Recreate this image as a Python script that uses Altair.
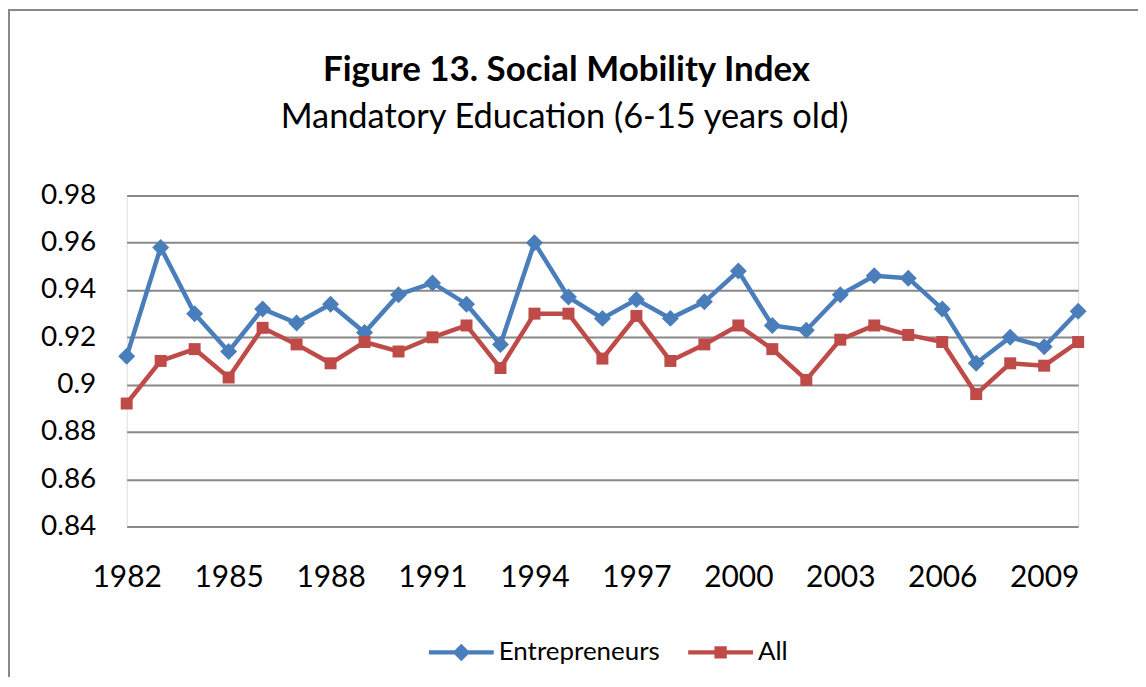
import altair as alt
import pandas as pd

years = list(range(1982, 2011))
entrepreneurs = [0.912, 0.958, 0.930, 0.914, 0.932, 0.926, 0.934, 0.922, 0.938, 0.943,
                 0.934, 0.917, 0.960, 0.937, 0.928, 0.936, 0.928, 0.935, 0.948, 0.925,
                 0.923, 0.938, 0.946, 0.945, 0.932, 0.909, 0.920, 0.916, 0.931]
all_series = [0.892, 0.910, 0.915, 0.903, 0.924, 0.917, 0.909, 0.918, 0.914, 0.920,
              0.925, 0.907, 0.930, 0.930, 0.911, 0.929, 0.910, 0.917, 0.925, 0.915,
              0.902, 0.919, 0.925, 0.921, 0.918, 0.896, 0.909, 0.908, 0.918]
series_names = ["Entrepreneurs", "All"]
series_colors = ["#4A7EBB", "#BE4B48"]
x_ticks = [1982, 1985, 1988, 1991, 1994, 1997, 2000, 2003, 2006, 2009]
y_ticks = [0.84, 0.86, 0.88, 0.90, 0.92, 0.94, 0.96, 0.98]
title_text = "Figure 13. Social Mobility Index"
subtitle_text = "Mandatory Education (6-15 years old)"

n = len(years)
df = pd.DataFrame({
    "year": years * 2,
    "value": entrepreneurs + all_series,
    "series": [series_names[0]] * n + [series_names[1]] * n,
    "hex": [series_colors[0]] * n + [series_colors[1]] * n,
})

FONT = "Lato"
W, H = 954, 332

x_enc = alt.X("year:Q",
              scale=alt.Scale(domain=[1982, 2010], nice=False, zero=False),
              axis=alt.Axis(values=x_ticks, format="d", title=None, grid=False,
                            domain=False, ticks=False, tickSize=0,
                            labelBaseline="alphabetic", labelPadding=60,
                            labelFontSize=30, labelFont=FONT, labelColor="#000000",
                            labelFlush=False, labelOverlap=False))
y_enc = alt.Y("value:Q",
              scale=alt.Scale(domain=[0.84, 0.98], nice=False, zero=False),
              axis=alt.Axis(values=y_ticks, format="~g", title=None, grid=True,
                            gridColor="#888888", gridWidth=2, domain=False,
                            ticks=False, tickSize=0, labelPadding=31,
                            labelFontSize=28, labelFont=FONT, labelColor="#000000"))

base = alt.Chart(df)

lines = base.mark_line(strokeWidth=4.5).encode(
    x=x_enc, y=y_enc,
    color=alt.Color("hex:N", scale=None),
    detail="series:N",
)

pts_e = base.transform_filter(alt.datum.series == "Entrepreneurs").mark_point(
    shape="diamond", filled=True, size=290, opacity=1).encode(
    x=x_enc, y=y_enc, color=alt.Color("hex:N", scale=None))

pts_a = base.transform_filter(alt.datum.series == "All").mark_point(
    shape="square", filled=True, size=144, opacity=1).encode(
    x=x_enc, y=y_enc, color=alt.Color("hex:N", scale=None))

# legend-only layer: symbols are line + marker paths
path_diamond = "M-1,-0.065L1,-0.065L1,0.065L-1,0.065Z M0,-0.27L0.27,0L0,0.27L-0.27,0Z"
path_square = "M-1,-0.065L1,-0.065L1,0.065L-1,0.065Z M-0.19,-0.19L0.19,-0.19L0.19,0.19L-0.19,0.19Z"
leg = alt.Legend(title=None, orient="none", legendX=303, legendY=425.5,
                 direction="horizontal", symbolSize=4225, symbolStrokeWidth=0,
                 labelFont=FONT, labelFontSize=26, labelColor="#000000",
                 labelLimit=400, labelOffset=5, columnPadding=28, padding=0)
legend_layer = base.transform_filter("false").mark_point(filled=True, opacity=1).encode(
    x=x_enc, y=y_enc,
    color=alt.Color("series:N", scale=alt.Scale(domain=series_names, range=series_colors),
                    legend=leg),
    shape=alt.Shape("series:N", scale=alt.Scale(domain=series_names,
                                                range=[path_diamond, path_square]),
                    legend=leg),
)

tdf = pd.DataFrame({"t": [title_text], "s": [subtitle_text]})
title_mark = alt.Chart(tdf).mark_text(font=FONT, fontSize=35, fontWeight="bold",
                                      align="center", baseline="alphabetic",
                                      color="#000000").encode(
    text="t:N", x=alt.value(441), y=alt.value(-115))
subtitle_mark = alt.Chart(tdf).mark_text(font=FONT, fontSize=34.5, fontWeight="normal",
                                         align="center", baseline="alphabetic",
                                         color="#000000").encode(
    text="s:N", x=alt.value(439), y=alt.value(-68))

border_top = alt.Chart(tdf).mark_rule(color="#888888", strokeWidth=2).encode(
    x=alt.value(-119), x2=alt.value(1100), y=alt.value(-186))
border_left = alt.Chart(tdf).mark_rule(color="#888888", strokeWidth=2).encode(
    x=alt.value(-118), y=alt.value(-187), y2=alt.value(700))

chart = alt.layer(border_top, border_left, lines, pts_e, pts_a, legend_layer,
                  title_mark, subtitle_mark).properties(
    width=W, height=H,
    autosize=alt.AutoSizeParams(type="none"),
    padding={"left": 119, "top": 187, "right": 60, "bottom": 150},
).configure_view(stroke=None).configure(background="#ffffff")

chart.save("out.html", embed_options={"renderer": "svg", "actions": False})
